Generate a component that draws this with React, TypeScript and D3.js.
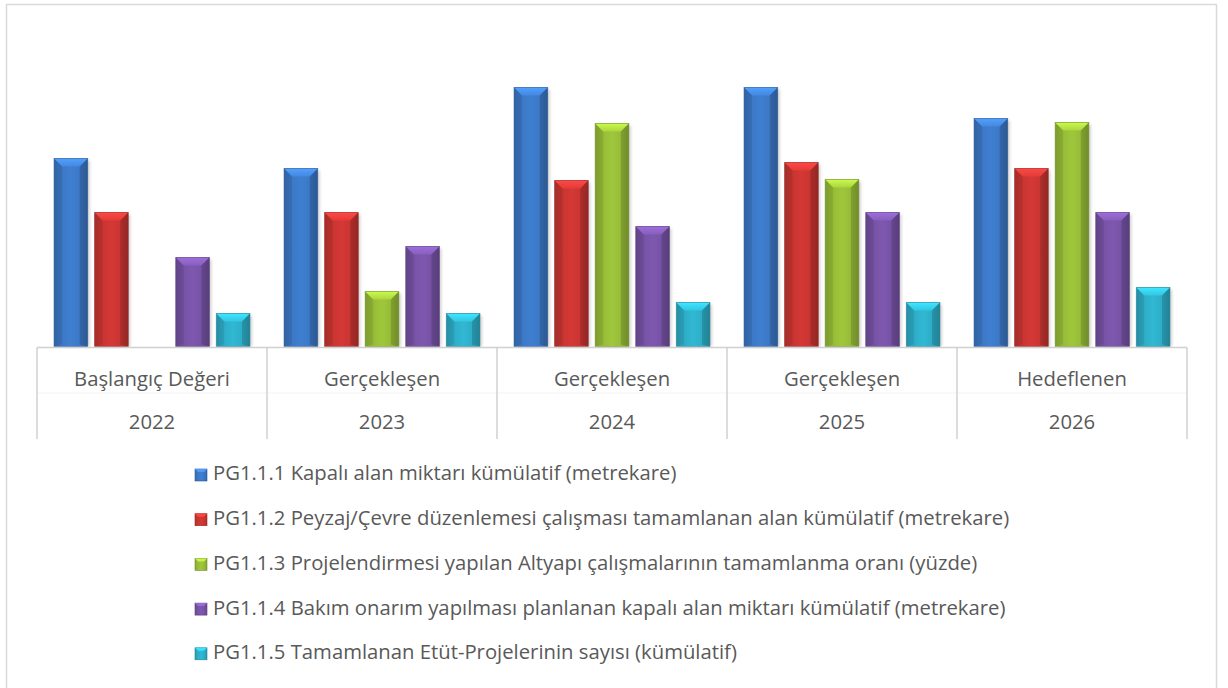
import React from "react";
import * as d3 from "d3";

const categories = ["Başlangıç Değeri", "Gerçekleşen", "Gerçekleşen", "Gerçekleşen", "Hedeflenen"];
const years = ["2022", "2023", "2024", "2025", "2026"];
const seriesNames = [
  "PG1.1.1 Kapalı alan miktarı kümülatif (metrekare)",
  "PG1.1.2 Peyzaj/Çevre düzenlemesi çalışması tamamlanan alan kümülatif (metrekare)",
  "PG1.1.3 Projelendirmesi yapılan Altyapı çalışmalarının tamamlanma oranı (yüzde)",
  "PG1.1.4 Bakım onarım yapılması planlanan kapalı alan miktarı kümülatif (metrekare)",
  "PG1.1.5 Tamamlanan Etüt-Projelerinin sayısı (kümülatif)",
];
const s1 = [188, 178, 259, 259, 228];
const s2 = [134, 134, 166, 184, 178];
const s3 = [null, 55, 223, 167, 224];
const s4 = [89, 100, 120, 134, 134];
const s5 = [33, 33, 44, 44, 59];
const seriesValues = [s1, s2, s3, s4, s5];
const colors = ["#3c78c6", "#c93532", "#97bd38", "#7753a6", "#2eaec8"];

const W = 1228;
const H = 688;
const axisLeft = 37;
const axisRight = 1187;
const baseline = 346.5;

export default function App() {
  const x0 = d3.scaleBand<number>().domain(d3.range(categories.length)).range([axisLeft, axisRight]).paddingInner(0).paddingOuter(0);
  const x1 = d3.scaleBand<number>().domain(d3.range(seriesNames.length)).range([0, x0.bandwidth()]).paddingInner(0.17).paddingOuter(0.42);
  const y = d3.scaleLinear().domain([0, 300]).range([baseline, baseline - 300]);
  const font = "'Open Sans', sans-serif";
  const fontSize = 20.3;
  const textColor = "#595959";
  const inset = 8;

  const bar = (i: number, j: number, v: number | null) => {
    if (v == null) return null;
    const bx = x0(i)! + x1(j)!;
    const bw = x1.bandwidth();
    const top = y(v);
    const h = baseline - top;
    const ins = Math.min(inset, h / 2);
    return (
      <g key={`b${i}-${j}`}>
        <rect x={bx + 2} y={top + 2} width={bw} height={h - 2} fill="#000" opacity={0.18} filter="url(#shadow)" />
        <rect x={bx} y={top} width={bw} height={h} fill={`url(#side${j})`} />
        <path d={`M${bx},${top}L${bx + bw},${top}L${bx + bw - ins},${top + ins}L${bx + ins},${top + ins}Z`} fill={`url(#top${j})`} />
        <path d={`M${bx},${top}L${bx + ins},${top + ins}L${bx + ins},${baseline - 2}L${bx},${baseline}Z`} fill="#000" opacity={0.08} />
        <path d={`M${bx + bw},${top}L${bx + bw - ins},${top + ins}L${bx + bw - ins},${baseline - 2}L${bx + bw},${baseline}Z`} fill="#000" opacity={0.14} />
        <rect x={bx} y={top} width={bw} height={h} fill="none" stroke={d3.color(colors[j])!.darker(0.8).toString()} strokeWidth={0.8} opacity={0.7} />
      </g>
    );
  };

  const legendX = 195;
  const legendY0 = 475;
  const legendStep = 44.7;

  return (
    <svg width={W} height={H} style={{ position: "absolute", left: 0, top: 0, background: "#fff" }}>
      <defs>
        <filter id="shadow" x="-20%" y="-20%" width="140%" height="140%">
          <feGaussianBlur stdDeviation="1.5" />
        </filter>
        {colors.map((c, j) => {
          const base = d3.color(c)!;
          return (
            <React.Fragment key={j}>
              <linearGradient id={`side${j}`} x1="0" x2="1" y1="0" y2="0">
                <stop offset="0" stopColor={base.darker(0.3).toString()} />
                <stop offset="0.25" stopColor={base.toString()} />
                <stop offset="0.5" stopColor={base.brighter(0.15).toString()} />
                <stop offset="0.75" stopColor={base.toString()} />
                <stop offset="1" stopColor={base.darker(0.4).toString()} />
              </linearGradient>
              <linearGradient id={`top${j}`} x1="0" x2="0" y1="0" y2="1">
                <stop offset="0" stopColor={base.brighter(0.8).toString()} />
                <stop offset="1" stopColor={base.brighter(0.35).toString()} />
              </linearGradient>
            </React.Fragment>
          );
        })}
      </defs>
      <rect x={6.5} y={4.5} width={1210} height={700} fill="#fff" stroke="#d9d9d9" strokeWidth={1.5} />

      {seriesValues.map((vals, j) => vals.map((v, i) => bar(i, j, v)))}

      {/* category axis */}
      <line x1={axisLeft} x2={axisRight} y1={baseline + 1} y2={baseline + 1} stroke="#d0d0d0" strokeWidth={1.5} />
      <line x1={axisLeft} x2={axisRight} y1={393} y2={393} stroke="#f2f2f2" strokeWidth={1} />
      {d3.range(categories.length + 1).map((k) => {
        const xx = k < categories.length ? x0(k)! : axisRight;
        return <line key={`sep${k}`} x1={xx} x2={xx} y1={baseline + 1} y2={439} stroke="#d0d0d0" strokeWidth={1.5} />;
      })}
      {categories.map((c, i) => (
        <text key={`c${i}`} x={x0(i)! + x0.bandwidth() / 2} y={381} textAnchor="middle" dominantBaseline="middle" fontFamily={font} fontSize={fontSize} fill={textColor}>
          {c}
        </text>
      ))}
      {years.map((c, i) => (
        <text key={`y${i}`} x={x0(i)! + x0.bandwidth() / 2} y={424} textAnchor="middle" dominantBaseline="middle" fontFamily={font} fontSize={fontSize} fill={textColor}>
          {c}
        </text>
      ))}

      {/* legend */}
      {seriesNames.map((n, j) => {
        const ly = legendY0 + j * legendStep;
        const base = d3.color(colors[j])!;
        return (
          <g key={`l${j}`}>
            <rect x={legendX} y={ly - 6} width={12} height={12} fill={`url(#side${j})`} stroke={base.darker(0.8).toString()} strokeWidth={0.6} />
            <path d={`M${legendX},${ly - 6}L${legendX + 12},${ly - 6}L${legendX + 9},${ly - 3}L${legendX + 3},${ly - 3}Z`} fill={base.brighter(0.7).toString()} />
            <text x={legendX + 18} y={ly} dominantBaseline="middle" fontFamily={font} fontSize={fontSize} fill={textColor}>
              {n}
            </text>
          </g>
        );
      })}
    </svg>
  );
}
